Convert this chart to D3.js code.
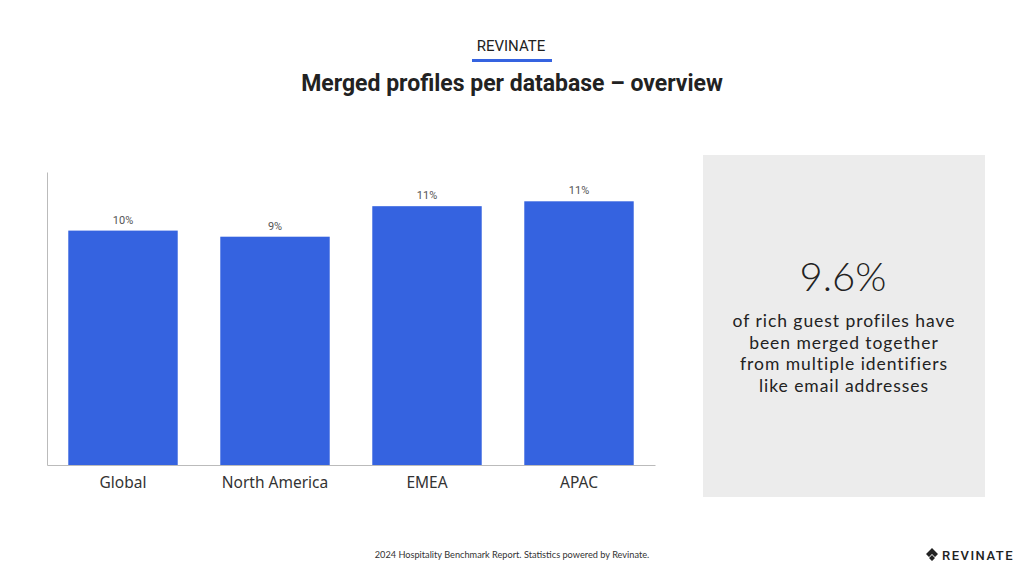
<!DOCTYPE html>
<html><head><meta charset="utf-8">
<script src="https://cdn.jsdelivr.net/npm/d3@7"></script>
<style>body{margin:0;background:#fff}svg{display:block}</style>
</head><body>
<svg id="c" width="1024" height="576"></svg>
<script>
const categories = ["Global", "North America", "EMEA", "APAC"];
const values = [9.6, 9.35, 10.6, 10.8];
const valueLabels = ["10%", "9%", "11%", "11%"];
const headline = "9.6%";
const calloutLines = ["of rich guest profiles have", "been merged together", "from multiple identifiers", "like email addresses"];

const svg = d3.select("#c");
// header
svg.append("text").attr("x", 511).attr("y", 51).attr("text-anchor", "middle")
  .attr("font-family", "Roboto, sans-serif").attr("font-size", 15).attr("fill", "#222").text("REVINATE");
svg.append("rect").attr("x", 472).attr("y", 59).attr("width", 80).attr("height", 3).attr("fill", "#3563E0");
svg.append("text").attr("x", 512).attr("y", 91).attr("text-anchor", "middle")
  .attr("font-family", "Roboto, sans-serif").attr("font-weight", "bold").attr("font-size", 23).attr("fill", "#222")
  .text("Merged profiles per database – overview");

// chart
const x = d3.scaleBand().domain(categories).range([47, 655]).paddingInner(0.28).paddingOuter(0.14);
const y = d3.scaleLinear().domain([0, 12]).range([465, 172]);

const g = svg.append("g");
g.selectAll("rect.bar").data(categories).join("rect").attr("class", "bar")
  .attr("x", d => x(d)).attr("width", x.bandwidth())
  .attr("y", (d, i) => y(values[i])).attr("height", (d, i) => y(0) - y(values[i]))
  .attr("fill", "#3563E0");
g.selectAll("text.vl").data(categories).join("text").attr("class", "vl")
  .attr("x", d => x(d) + x.bandwidth() / 2).attr("y", (d, i) => y(values[i]) - 7)
  .attr("text-anchor", "middle").attr("font-family", "Roboto, sans-serif").attr("font-size", 11).attr("fill", "#555")
  .text((d, i) => valueLabels[i]);

const yAxis = g.append("g").attr("transform", "translate(47,0)").call(d3.axisLeft(y).tickValues([]).tickSize(0));
yAxis.select(".domain").attr("stroke", "#bbb");
const xAxis = g.append("g").attr("transform", "translate(0,465)").call(d3.axisBottom(x).tickSize(0).tickPadding(12));
xAxis.select(".domain").attr("stroke", "#bbb");
xAxis.selectAll("text").attr("font-family", "'Noto Sans', sans-serif").attr("font-size", 15.5).attr("fill", "#333");

// callout box
svg.append("rect").attr("x", 703).attr("y", 155).attr("width", 282).attr("height", 342).attr("fill", "#ececec");
svg.append("text").attr("x", 843).attr("y", 291).attr("text-anchor", "middle")
  .attr("font-family", "Lato, sans-serif").attr("font-weight", 300).attr("font-size", 40).attr("fill", "#222").text(headline);
svg.append("g").selectAll("text").data(calloutLines).join("text")
  .attr("x", 844).attr("y", (d, i) => 327 + i * 21.5).attr("text-anchor", "middle")
  .attr("font-family", "Lato, sans-serif").attr("font-size", 17.5).attr("letter-spacing", 0.95).attr("fill", "#222").text(d => d);

// footer
svg.append("text").attr("x", 512).attr("y", 558).attr("text-anchor", "middle")
  .attr("font-family", "Lato, sans-serif").attr("font-size", 9.2).attr("fill", "#333")
  .text("2024 Hospitality Benchmark Report. Statistics powered by Revinate.");
const logo = svg.append("g").attr("transform", "translate(926,555)");
logo.append("path").attr("d", "M0,-1 L6,-7 L12,-1 L9,2 L6,-1 L3,2 Z M3,3 L6,0 L9,3 L6,6 Z").attr("fill", "#222");
logo.append("text").attr("x", 16).attr("y", 5).attr("font-family", "Roboto, sans-serif").attr("font-weight", 500)
  .attr("font-size", 13).attr("letter-spacing", 1.5).attr("fill", "#222").text("REVINATE");
</script>
</body></html>
